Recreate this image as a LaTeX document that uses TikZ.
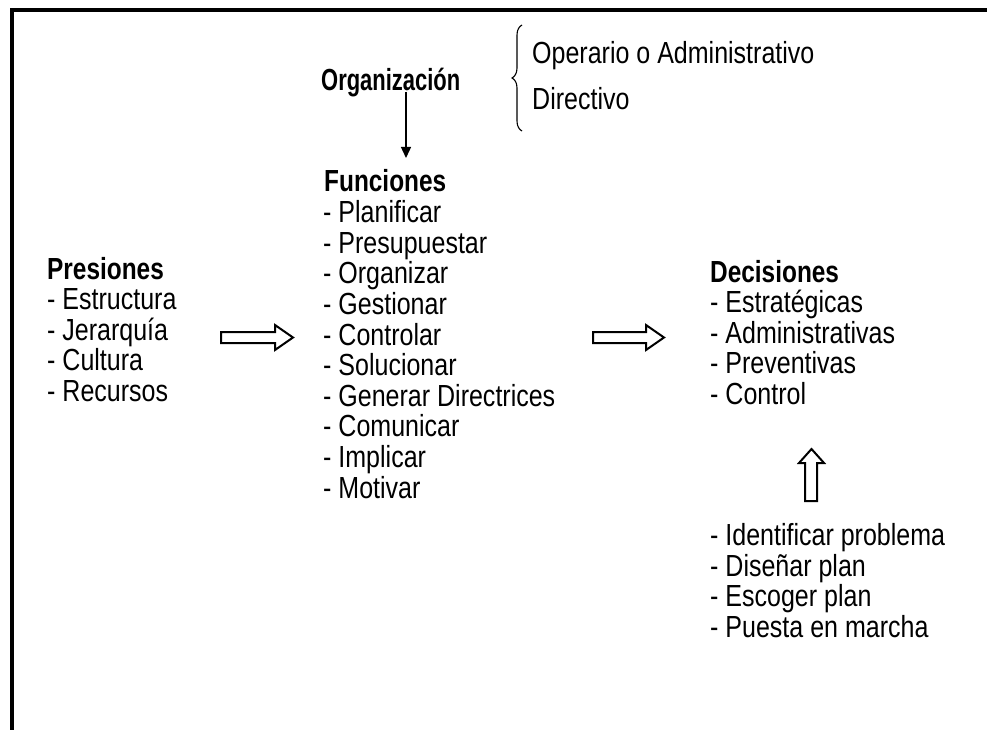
\documentclass[tikz,border=0pt]{standalone}
\usepackage{fontspec}
\setmainfont{Liberation Sans}[FakeStretch=0.82,BoldFeatures={FakeStretch=0.8}]
\usetikzlibrary{arrows.meta,decorations.pathreplacing}
\begin{document}
\begin{tikzpicture}[x=1pt,y=-1pt,
  lbl/.style={anchor=base west,inner sep=0pt,font=\fontsize{30.5}{31}\selectfont},
  ttl/.style={lbl,font=\fontsize{30.5}{31}\selectfont\bfseries},
  blockarrow/.style={draw=black,line width=2pt,fill=white,line join=miter}]
\useasboundingbox (0,0) rectangle (987,730);
% frame
\draw[line width=3.6pt] (12,731) -- (12,10) -- (988,10);
% Organizacion
\node[ttl] (org) at (321,91) {\scalebox{0.9}[1]{Organización}};
\node[lbl] (op) at (532,64) {Operario o Administrativo};
\node[lbl] (dir) at (532,110) {Directivo};
\coordinate (bt) at (522,25);
\coordinate (bb) at (522,131);
\draw[line width=1.1pt,decorate,decoration={brace,amplitude=10pt,aspect=0.5}] (bb) -- (bt);
% Presiones
\node[ttl] (pres) at (47,279) {Presiones};
\foreach \t [count=\i] in {Estructura,Jerarquía,Cultura,Recursos}
  \node[lbl] (pres\i) at (47,279+30.6*\i) {- \t};
% Funciones
\node[ttl] (fun) at (324,192) {Funciones};
\foreach \t [count=\i] in {Planificar,Presupuestar,Organizar,Gestionar,Controlar,Solucionar,Generar Directrices,Comunicar,Implicar,Motivar}
  \node[lbl] (fun\i) at (323,192+30.6*\i) {- \t};
% Decisiones
\node[ttl] (dec) at (710,282) {Decisiones};
\foreach \t [count=\i] in {Estratégicas,Administrativas,Preventivas,Control}
  \node[lbl] (dec\i) at (710,282+30.6*\i) {- \t};
% Pasos
\foreach \t [count=\i] in {Identificar problema,Diseñar plan,Escoger plan,Puesta en marcha}
  \node[lbl] (pas\i) at (710,515+30.6*\i) {- \t};
% down arrow
\coordinate (da1) at (406,92);
\coordinate (da2) at (406,158);
\draw[line width=1.4pt,-{Triangle[width=10pt,length=11pt]}] (da1) -- (da2);
% block arrows
\draw[blockarrow] (221,332) -- (275,332) -- (275,325) -- (293,337.5) -- (275,350) -- (275,343) -- (221,343) -- cycle;
\draw[blockarrow] (593,332) -- (646,332) -- (646,325) -- (664,337.5) -- (646,350) -- (646,343) -- (593,343) -- cycle;
\draw[blockarrow] (805,501) -- (805,463) -- (799,463) -- (811.5,449) -- (824,463) -- (817,463) -- (817,501) -- cycle;
\end{tikzpicture}
\end{document}
